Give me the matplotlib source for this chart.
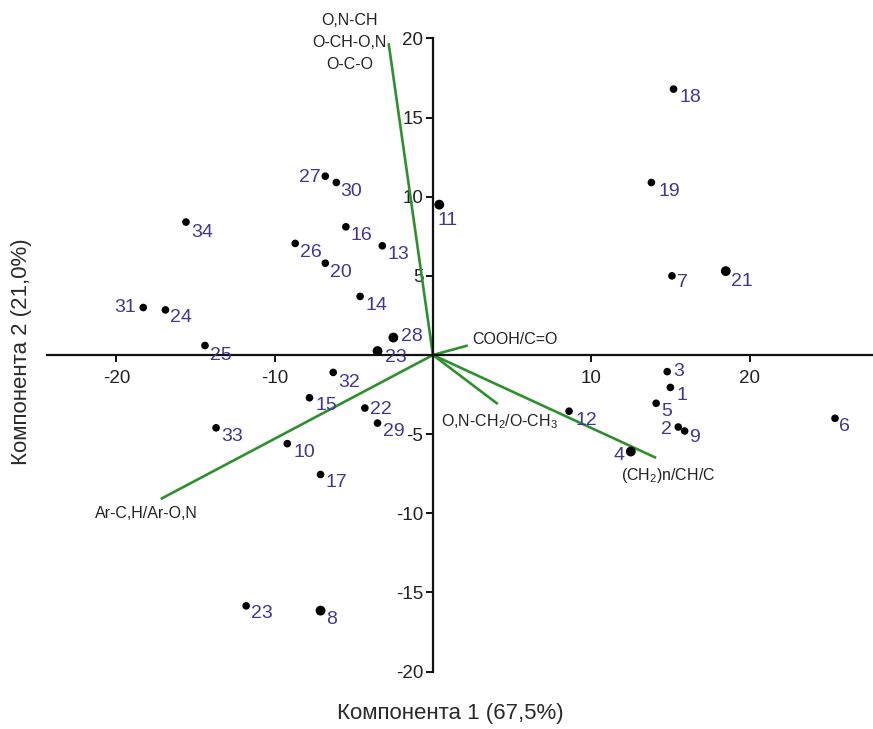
import matplotlib
matplotlib.use("Agg")
import matplotlib.pyplot as plt

# PCA scores (component 1, component 2) for the samples
sample_ids = ["27", "30", "11", "34", "16", "26", "13", "20", "14", "31", "24", "28",
              "25", "23", "18", "19", "7", "21", "32", "15", "22", "29", "33", "10",
              "17", "23", "8", "3", "1", "5", "12", "6", "2", "9", "4"]
pc1 = [-6.8, -6.1, 0.4, -15.6, -5.5, -8.7, -3.2, -6.8, -4.6, -18.3, -16.9, -2.5,
       -14.4, -3.5, 15.2, 13.8, 15.1, 18.5, -6.3, -7.8, -4.3, -3.5, -13.7, -9.2,
       -7.1, -11.8, -7.1, 14.8, 15.0, 14.1, 8.6, 25.4, 15.5, 15.9, 12.5]
pc2 = [11.3, 10.9, 9.5, 8.4, 8.1, 7.05, 6.9, 5.8, 3.7, 3.0, 2.85, 1.1,
       0.6, 0.25, 16.8, 10.9, 5.0, 5.3, -1.1, -2.7, -3.35, -4.3, -4.6, -5.6,
       -7.55, -15.85, -16.15, -1.05, -2.05, -3.05, -3.55, -4.0, -4.55, -4.8, -6.1]

# Loadings (vectors from origin) and their labels
loading_names = ["O,N-CH\nO-CH-O,N\nO-C-O", "COOH/C=O", "O,N-CH$_2$/O-CH$_3$",
                 "(CH$_2$)n/CH/C", "Ar-C,H/Ar-O,N"]
loading_x = [-2.8, 2.2, 4.1, 14.1, -17.2]
loading_y = [19.7, 0.6, -3.1, -6.5, -9.1]

x_ticks = [-20, -10, 10, 20]
y_ticks = [-20, -15, -10, -5, 5, 10, 15, 20]
x_title = "Компонента 1 (67,5%)"
y_title = "Компонента 2 (21,0%)"

FONT = ["Liberation Sans Narrow", "Liberation Sans", "DejaVu Sans"]
plt.rcParams["font.family"] = FONT
plt.rcParams["mathtext.default"] = "regular"

LABEL_COLOR = "#40388c"
GREEN = "#2f8f2f"

fig = plt.figure(figsize=(8.73, 7.29), dpi=100)
ax = fig.add_axes([0, 0, 1, 1])
ax.set_xlim(-27.35, 27.8)
ax.set_ylim(-23.63, 22.43)
ax.patch.set_visible(False)

# Axes crossing at the origin
for side in ("top", "right"):
    ax.spines[side].set_visible(False)
ax.spines["left"].set_position(("data", 0))
ax.spines["bottom"].set_position(("data", 0))
ax.spines["left"].set_bounds(-20, 20)
ax.spines["bottom"].set_bounds(-24.4, 27.8)
for side in ("left", "bottom"):
    ax.spines[side].set_linewidth(1.6)
    ax.spines[side].set_color("#111111")
ax.set_xticks(x_ticks)
ax.set_yticks(y_ticks)
ax.set_xticklabels([str(v) for v in x_ticks])
ax.set_yticklabels([str(v) for v in y_ticks])
ax.tick_params(axis="both", direction="out", length=5, width=1.4,
               labelsize=13.5, colors="#111111", labelcolor="#222222")
ax.tick_params(axis="x", pad=6)
ax.tick_params(axis="y", pad=2)

# Loading vectors
vec_label_pos = {
    0: dict(xy=(-5.25, 19.75), ha="center", va="center", linespacing=1.55),
    1: dict(xy=(2.5, 1.0), ha="left", va="center"),
    2: dict(xy=(0.5, -4.2), ha="left", va="center"),
    3: dict(xy=(11.85, -7.6), ha="left", va="center"),
    4: dict(xy=(-21.35, -10.0), ha="left", va="center"),
}
for i, (name, lx, ly) in enumerate(zip(loading_names, loading_x, loading_y)):
    ax.plot([0, lx], [0, ly], color=GREEN, lw=1.9, solid_capstyle="butt", zorder=2)
    p = vec_label_pos[i]
    ax.text(p["xy"][0], p["xy"][1], name, ha=p["ha"], va=p["va"],
            fontsize=11.5, color="#222222", linespacing=p.get("linespacing", 1.2))

# Sample scores
large = {2, 11, 13, 17, 26, 34}
sizes = [50 if i in large else 30 for i in range(len(pc1))]
ax.scatter(pc1, pc2, s=sizes, color="black", zorder=4, linewidths=0)

# Label placement: (dx, dy) in pixels with y downward, horizontal alignment
label_off = {
    0: (-5, 1, "right"), 1: (4, 9, "left"), 2: (-2, 16, "left"), 3: (5, 10, "left"),
    4: (5, 9, "left"), 5: (5, 9, "left"), 6: (5, 9, "left"), 7: (5, 9, "left"),
    8: (5, 9, "left"), 9: (-7, 0, "right"), 10: (5, 8, "left"), 11: (8, -1, "left"),
    12: (5, 10, "left"), 13: (7, 6, "left"), 14: (6, 8, "left"), 15: (7, 9, "left"),
    16: (5, 7, "left"), 17: (5, 10, "left"), 18: (5, 10, "left"), 19: (6, 8, "left"),
    20: (5, 1, "left"), 21: (5, 8, "left"), 22: (5, 9, "left"), 23: (6, 9, "left"),
    24: (5, 8, "left"), 25: (5, 8, "left"), 26: (6, 9, "left"), 27: (6, 0, "left"),
    28: (6, 8, "left"), 29: (5, 8, "left"), 30: (6, 9, "left"), 31: (4, 8, "left"),
    32: (-6, 2, "right"), 33: (4, 7, "left"), 34: (-6, 4, "right"),
}
for i, (sid, x, y) in enumerate(zip(sample_ids, pc1, pc2)):
    dx, dy, ha = label_off[i]
    ax.annotate(sid, (x, y), xytext=(dx, -dy), textcoords="offset pixels",
                ha=ha, va="center", fontsize=14, color=LABEL_COLOR, zorder=5)

# Axis titles
fig.text(450 / 873, 1 - 713 / 729, x_title, ha="center", va="center",
         fontsize=16, color="#2a2a2a")
fig.text(22 / 873, 1 - 352 / 729, y_title, ha="center", va="center",
         rotation=90, fontsize=16, color="#2a2a2a")

fig.savefig("out.png", dpi=100)
